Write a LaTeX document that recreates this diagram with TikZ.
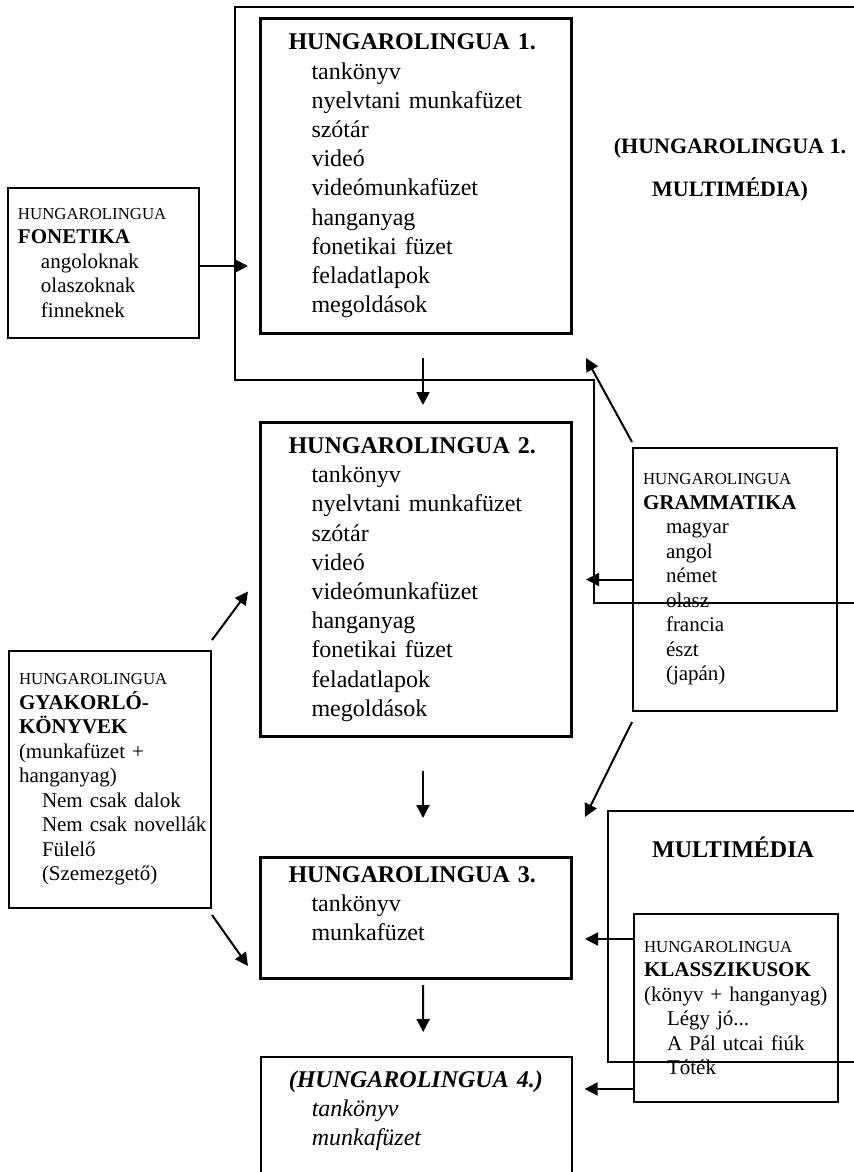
\documentclass[tikz,border=0pt]{standalone}
\usepackage{fontspec}
\setmainfont{Liberation Serif}
\usepackage{tikz}
\usetikzlibrary{arrows.meta}

\newcommand{\tetel}{\hspace*{11.5pt}}
\newcommand{\kiscim}{{\fontsize{8.4}{12.25}\selectfont HUNGAROLINGUA}}

\tikzset{
  nagydoboz/.style={draw, line width=1.5pt, anchor=north west,
    inner xsep=14pt, text width=127.5pt, align=left,
    font=\fontsize{12}{14.6}\selectfont},
  kisdoboz/.style={draw, line width=1pt, anchor=north west,
    inner xsep=5pt, align=left,
    font=\fontsize{10.5}{12.25}\selectfont},
  keret/.style={line width=0.8pt},
  nyil/.style={-{Triangle[length=6.5pt,width=6.5pt]}, line width=1pt}
}

\begin{document}
\begin{tikzpicture}[x=0.5pt, y=-0.5pt]
  \useasboundingbox (0,0) rectangle (854,1172);
  \clip (0,0) rectangle (854,1172);

  % Keretek : HUNGAROLINGUA 1. multimédia, lent a multimédia
  \draw[keret] (854,7) -| (235,380) -| (594,603) -- (854,603);
  \draw[keret] (854,811) -| (608,1062) -- (854,1062);

  % A fő kötetek
  \node[nagydoboz, minimum height=157.5pt] (hl1) at (259,17) {
    \textbf{HUNGAROLINGUA 1.}\\
    \tetel tankönyv\\
    \tetel nyelvtani munkafüzet\\
    \tetel szótár\\
    \tetel videó\\
    \tetel videómunkafüzet\\
    \tetel hanganyag\\
    \tetel fonetikai füzet\\
    \tetel feladatlapok\\
    \tetel megoldások};
  \node[nagydoboz, minimum height=157pt] (hl2) at (259,421) {
    \textbf{HUNGAROLINGUA 2.}\\
    \tetel tankönyv\\
    \tetel nyelvtani munkafüzet\\
    \tetel szótár\\
    \tetel videó\\
    \tetel videómunkafüzet\\
    \tetel hanganyag\\
    \tetel fonetikai füzet\\
    \tetel feladatlapok\\
    \tetel megoldások};
  \node[nagydoboz, minimum height=60.5pt] (hl3) at (259,856) {
    \textbf{HUNGAROLINGUA 3.}\\
    \tetel tankönyv\\
    \tetel munkafüzet\\
    \mbox{}};
  \node[nagydoboz, line width=0.8pt, inner ysep=7pt,
        font=\fontsize{12}{14.6}\selectfont\itshape] (hl4) at (260,1056) {
    \textbf{(HUNGAROLINGUA 4.)}\\
    \tetel tankönyv\\
    \tetel munkafüzet\\
    \mbox{}\\
    \mbox{}};

  % Címek a keretekben
  \node[font=\bfseries\fontsize{11}{21.5}\selectfont, align=center,
        inner sep=0pt, anchor=north] (mm1cim) at (730,138)
    {(HUNGAROLINGUA 1.\\MULTIMÉDIA)};
  \node[font=\bfseries\fontsize{12}{14}\selectfont, inner sep=0pt,
        anchor=base] (mm2cim) at (733,857) {MULTIMÉDIA};

  % Kiegészítő kötetek
  \node[kisdoboz, text width=85.5pt, minimum height=75pt] (fon) at (7,187) {
    \kiscim\\
    \textbf{FONETIKA}\\
    \tetel angoloknak\\
    \tetel olaszoknak\\
    \tetel finneknek};
  \node[kisdoboz, text width=91pt, minimum height=128.5pt] (gyak) at (8,650) {
    \kiscim\\
    \textbf{GYAKORLÓ-}\\
    \textbf{KÖNYVEK}\\
    (munkafüzet +\\
    hanganyag)\\
    \tetel Nem csak dalok\\
    \tetel \mbox{Nem csak novellák}\\
    \tetel Fülelő\\
    \tetel (Szemezgető)};
  \node[kisdoboz, text width=92pt, minimum height=131.5pt] (gram) at (632,447) {
    \kiscim\\
    \textbf{GRAMMATIKA}\\
    \tetel magyar\\
    \tetel angol\\
    \tetel német\\
    \tetel olasz\\
    \tetel francia\\
    \tetel észt\\
    \tetel (japán)};
  \node[kisdoboz, text width=92pt, minimum height=94pt] (klassz) at (633,913) {
    \kiscim\\
    \textbf{KLASSZIKUSOK}\\
    \mbox{(könyv + hanganyag)}\\
    \tetel Légy jó...\\
    \tetel \mbox{A Pál utcai fiúk}\\
    \tetel Tóték};

  % Nyilak a kötetek között
  \draw[nyil, shorten <=11.5pt, shorten >=8pt]
    ([xshift=3.5pt]hl1.south) -- ([xshift=3.5pt]hl2.north);
  \draw[nyil, shorten <=16.5pt, shorten >=19pt]
    ([xshift=3.5pt]hl2.south) -- ([xshift=3.5pt]hl3.north);
  \draw[nyil, shorten <=2.5pt, shorten >=12pt]
    ([xshift=3.5pt]hl3.south) -- ([xshift=3.5pt]hl4.north);

  % Nyilak a kiegészítőktől
  \coordinate (f1) at ([yshift=-1.5pt]fon.east);
  \draw[nyil, shorten >=5.5pt] (f1) -- (f1 -| hl1.west);
  \draw[nyil] ([shift={(0,-10)}]gyak.north east) -- ([shift={(-11,12)}]hl2.west);
  \draw[nyil] ([shift={(0,6)}]gyak.south east) -- ([shift={(-11,-14)}]hl3.south west);
  \draw[nyil] ([shift={(0,-5)}]gram.north west) -- ([shift={(13,23)}]hl1.south east);
  \draw[nyil, shorten >=6.5pt] (gram.west) -- (gram.west -| hl2.east);
  \draw[nyil] ([shift={(0,10)}]gram.south west) -- ([shift={(12,-39)}]hl3.north east);
  \coordinate (k1) at ([shift={(0,26)}]klassz.north west);
  \coordinate (k2) at ([shift={(0,-14)}]klassz.south west);
  \draw[nyil, shorten >=6pt] (k1) -- (k1 -| hl3.east);
  \draw[nyil, shorten >=6pt] (k2) -- (k2 -| hl4.east);
\end{tikzpicture}
\end{document}
